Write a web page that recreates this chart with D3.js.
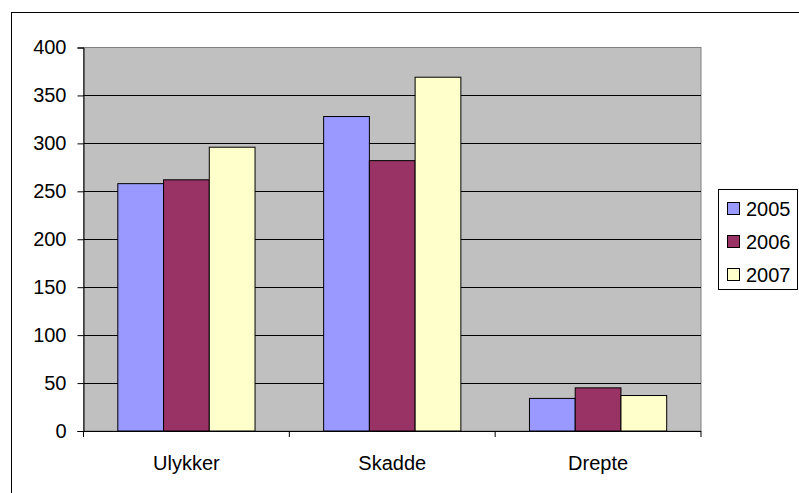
<!DOCTYPE html>
<html><head><meta charset="utf-8">
<script src="https://cdn.jsdelivr.net/npm/d3@7"></script>
<style>body{margin:0;background:#fff;}svg{display:block;}</style>
</head><body>
<svg id="c" width="799" height="493"></svg>
<script>
const categories = ["Ulykker", "Skadde", "Drepte"];
const seriesNames = ["2005", "2006", "2007"];
const v2005 = [258, 328, 34];
const v2006 = [262, 282, 45];
const v2007 = [296, 369, 37];
const yTicks = [0, 50, 100, 150, 200, 250, 300, 350, 400];
const colors = ["#9999FF", "#993366", "#FFFFCC"];
const seriesValues = [v2005, v2006, v2007];

const svg = d3.select("#c");
const font = "'Liberation Sans', Arial, sans-serif";
const L = 83.5, R = 701, T = 47.5, B = 431;

// outer chart border (extends past viewport on right/bottom)
svg.append("rect").attr("x", 11.5).attr("y", 12.5).attr("width", 820).attr("height", 520)
  .attr("fill", "#fff").attr("stroke", "#000").attr("stroke-width", 1);

const y = d3.scaleLinear().domain([0, 400]).range([B, T]);
const x0 = d3.scaleBand().domain(categories).range([L, R]).padding(0);
const x1 = d3.scaleBand().domain(seriesNames).range([0, x0.bandwidth()]).paddingInner(0).paddingOuter(0.75);

// plot background
svg.append("rect").attr("x", L).attr("y", T).attr("width", R - L).attr("height", B - T)
  .attr("fill", "#C0C0C0").attr("stroke", "#808080").attr("stroke-width", 1);

// gridlines
svg.append("g").selectAll("line").data(yTicks.filter(d => d > 0 && d < 400)).join("line")
  .attr("x1", L).attr("x2", R)
  .attr("y1", d => Math.round(y(d)) + 0.5).attr("y2", d => Math.round(y(d)) + 0.5)
  .attr("stroke", "#000").attr("stroke-width", 1);

// bars
const g = svg.append("g");
categories.forEach((c, ci) => {
  seriesNames.forEach((s, si) => {
    const v = seriesValues[si][ci];
    g.append("rect")
      .attr("x", x0(c) + x1(s))
      .attr("y", y(v))
      .attr("width", x1.bandwidth())
      .attr("height", B - y(v))
      .attr("fill", colors[si])
      .attr("stroke", "#000").attr("stroke-width", 1);
  });
});

// y axis
const yAxis = d3.axisLeft(y).tickValues(yTicks).tickSize(6).tickPadding(11);
const ya = svg.append("g").attr("transform", `translate(${L},0)`).call(yAxis);
ya.select(".domain").attr("stroke", "#000");
ya.selectAll("line").attr("stroke", "#000");
ya.selectAll("text").attr("font-family", font).attr("font-size", 20).attr("fill", "#000");

// x axis
const xa = svg.append("g").attr("transform", `translate(0,${B})`);
xa.append("line").attr("x1", L).attr("x2", R).attr("y1", 0.5).attr("y2", 0.5).attr("stroke", "#000");
const tickXs = [L].concat(categories.map(c => x0(c) + x0.bandwidth()));
xa.selectAll("line.t").data(tickXs).join("line").attr("class", "t")
  .attr("x1", d => d).attr("x2", d => d).attr("y1", 0).attr("y2", 6).attr("stroke", "#000");
xa.selectAll("text").data(categories).join("text")
  .attr("x", d => x0(d) + x0.bandwidth() / 2).attr("y", 39)
  .attr("text-anchor", "middle").attr("font-family", font).attr("font-size", 20).attr("fill", "#000")
  .text(d => d);

// legend
const lg = svg.append("g");
lg.append("rect").attr("x", 718.5).attr("y", 189.5).attr("width", 79).attr("height", 100)
  .attr("fill", "#fff").attr("stroke", "#000").attr("stroke-width", 1);
seriesNames.forEach((s, i) => {
  const cy = 209 + i * 33;
  lg.append("rect").attr("x", 727.5).attr("y", cy - 6.5).attr("width", 12).attr("height", 12)
    .attr("fill", colors[i]).attr("stroke", "#000").attr("stroke-width", 1);
  lg.append("text").attr("x", 746).attr("y", cy + 7)
    .attr("font-family", font).attr("font-size", 20).attr("fill", "#000").text(s);
});
</script>
</body></html>
